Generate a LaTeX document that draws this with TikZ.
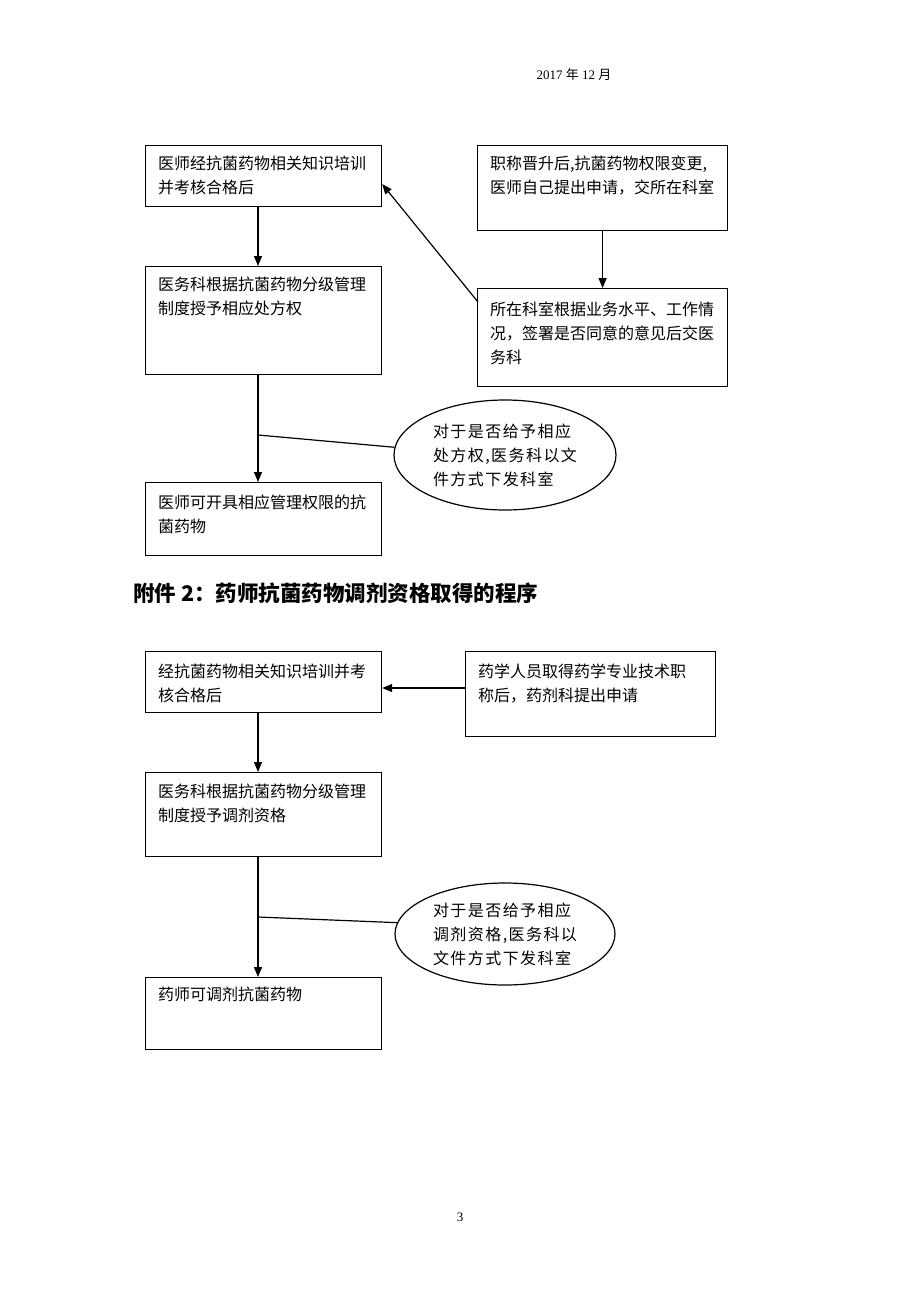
\documentclass[tikz,border=0pt]{standalone}
\usepackage{fontspec}
\setmainfont{Liberation Serif}
\newfontfamily\cjk{Noto Sans CJK SC}
\newfontfamily\cjkw[LetterSpace=9]{Noto Sans CJK SC}
\usetikzlibrary{arrows.meta,shapes.geometric,calc}
\begin{document}
\begin{tikzpicture}[x=1pt,y=-1pt,
  box/.style={draw, line width=1.2pt, anchor=north west, inner sep=0pt},
  txt/.style={anchor=north west, inner sep=0pt, align=left, font=\cjk\fontsize{16}{24}\selectfont},
  ell/.style={draw, line width=1.2pt, ellipse, inner sep=0pt, align=left, font=\cjkw\fontsize{16}{24}\selectfont},
  arr/.style={line width=1.2pt, -{Triangle[length=10pt,width=8pt]}},
  conn/.style={line width=1.2pt}]
\useasboundingbox (0,0) rectangle (920,1302);
\fill[white] (0,0) rectangle (920,1302);
\coordinate (ax) at (258,0);
% header
\node[font=\fontsize{13}{16}\selectfont] (date) at (574,75) {2017 {\cjk 年} 12 {\cjk 月}};
% ---------- part 1
\node[box, minimum width=236pt, minimum height=61pt] (a) at (145,145) {};
\node[txt] (at) at (158,156) {医师经抗菌药物相关知识培训\\并考核合格后};
\node[box, minimum width=250pt, minimum height=85pt] (b) at (477,145) {};
\node[txt] (bt) at (490,156) {职称晋升后,抗菌药物权限变更,\\医师自己提出申请，交所在科室};
\node[box, minimum width=236pt, minimum height=108pt] (c) at (145,266) {};
\node[txt] (ct) at (158,277) {医务科根据抗菌药物分级管理\\制度授予相应处方权};
\node[box, minimum width=250pt, minimum height=98pt] (d) at (477,288) {};
\node[txt] (dt) at (490,302) {所在科室根据业务水平、工作情\\况，签署是否同意的意见后交医\\务科};
\node[ell, minimum width=222pt, minimum height=110pt] (e1) at (505,455) {对于是否给予相应\\处方权,医务科以文\\件方式下发科室};
\node[box, minimum width=236pt, minimum height=73pt] (e) at (145,482) {};
\node[txt] (et) at (158,495) {医师可开具相应管理权限的抗\\菌药物};
\draw[arr] (a.south -| ax) -- (c.north -| ax);
\draw[arr] (b) -- (d);
\draw[arr] ($(d.north west)+(1,14)$) -- ($(a.east)+(0,8)$);
\draw[arr] (c.south -| ax) -- (e.north -| ax);
\coordinate (m1) at (258,435);
\draw[conn] (m1) -- (e1.176);
% ---------- heading
\node[anchor=west, inner sep=0pt, font=\cjk\bfseries\fontsize{21.5}{24}\selectfont] (hd) at (133,593) {附件 2：药师抗菌药物调剂资格取得的程序};
% ---------- part 2
\node[box, minimum width=236pt, minimum height=61pt] (f) at (145,651) {};
\node[txt] (ft) at (158,664) {经抗菌药物相关知识培训并考\\核合格后};
\node[box, minimum width=250pt, minimum height=85pt] (g) at (465,651) {};
\node[txt] (gt) at (478,664) {药学人员取得药学专业技术职\\称后，药剂科提出申请};
\node[box, minimum width=236pt, minimum height=84pt] (h) at (145,772) {};
\node[txt] (ht) at (158,784) {医务科根据抗菌药物分级管理\\制度授予调剂资格};
\node[ell, minimum width=220pt, minimum height=102pt] (e2) at (505,934) {对于是否给予相应\\调剂资格,医务科以\\文件方式下发科室};
\node[box, minimum width=236pt, minimum height=72pt] (i) at (145,977) {};
\node[txt] (it) at (158,987) {药师可调剂抗菌药物};
\coordinate (gy) at (0,688);
\draw[arr] (g.west |- gy) -- (f.east |- gy);
\draw[arr] (f.south -| ax) -- (h.north -| ax);
\draw[arr] (h.south -| ax) -- (i.north -| ax);
\coordinate (m2) at (258,917);
\draw[conn] (m2) -- (e2.174);
% footer
\node[font=\fontsize{13}{16}\selectfont] (pg) at (460,1217) {3};
\end{tikzpicture}
\end{document}
